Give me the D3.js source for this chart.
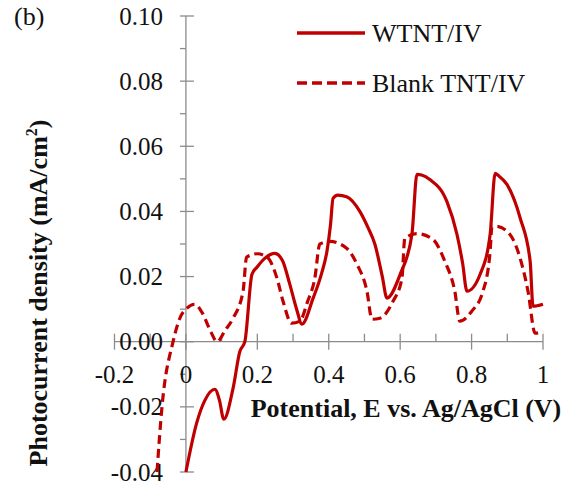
<!DOCTYPE html>
<html><head><meta charset="utf-8">
<script src="https://cdn.jsdelivr.net/npm/d3@7"></script>
<style>
body{margin:0;background:#fff;}
text{font-family:"Liberation Serif","Times New Roman",serif;}
</style></head>
<body><svg id="c" width="575" height="483"></svg>
<script>
const xTicks = [-0.2, 0, 0.2, 0.4, 0.6, 0.8, 1];
const xTickLabels = ["-0.2", "0", "0.2", "0.4", "0.6", "0.8", "1"];
const xMinor = [-0.1, 0.1, 0.3, 0.5, 0.7, 0.9];
const yTicks = [-0.04, -0.02, 0, 0.02, 0.04, 0.06, 0.08, 0.10];
const yTickLabels = ["-0.04", "-0.02", "0.00", "0.02", "0.04", "0.06", "0.08", "0.10"];
const yMinor = [-0.03, -0.01, 0.01, 0.03, 0.05, 0.07, 0.09];

const wtntE = [0, 0.03, 0.053, 0.081, 0.094, 0.106, 0.132, 0.151, 0.165, 0.185, 0.2, 0.22, 0.249, 0.27, 0.29, 0.31, 0.325, 0.356, 0.38, 0.395, 0.405, 0.412, 0.425, 0.45, 0.487, 0.51, 0.529, 0.55, 0.563, 0.6, 0.633, 0.647, 0.66, 0.683, 0.731, 0.759, 0.775, 0.787, 0.824, 0.852, 0.866, 0.875, 0.899, 0.936, 0.964, 0.972, 1.0];
const wtntJ = [-0.040, -0.025, -0.018, -0.0146, -0.018, -0.0238, -0.0143, -0.003, 0.0, 0.0207, 0.023, 0.0255, 0.0271, 0.025, 0.018, 0.010, 0.0054, 0.0133, 0.021, 0.0278, 0.036, 0.044, 0.045, 0.0445, 0.040, 0.035, 0.030, 0.020, 0.0134, 0.0207, 0.033, 0.0514, 0.0512, 0.0498, 0.043, 0.033, 0.024, 0.0155, 0.0207, 0.033, 0.0517, 0.051, 0.0483, 0.038, 0.0247, 0.0109, 0.0115];

const blankE = [-0.081, -0.067, -0.036, -0.017, 0.003, 0.025, 0.045, 0.07, 0.087, 0.11, 0.132, 0.16, 0.17, 0.2, 0.227, 0.255, 0.272, 0.296, 0.319, 0.341, 0.361, 0.375, 0.403, 0.45, 0.479, 0.507, 0.521, 0.543, 0.58, 0.605, 0.613, 0.647, 0.692, 0.725, 0.753, 0.767, 0.8, 0.832, 0.852, 0.857, 0.87, 0.907, 0.936, 0.958, 0.978, 1.0];
const blankJ = [-0.040, -0.020, 0.0, 0.0072, 0.0103, 0.0115, 0.009, 0.003, 0.0, 0.0035, 0.0072, 0.0155, 0.026, 0.027, 0.026, 0.0195, 0.0124, 0.0057, 0.0063, 0.0124, 0.0195, 0.030, 0.0308, 0.0287, 0.0238, 0.0155, 0.0069, 0.0072, 0.0124, 0.0195, 0.0317, 0.0332, 0.0314, 0.0247, 0.0155, 0.0063, 0.0093, 0.0155, 0.0278, 0.0354, 0.0354, 0.033, 0.0256, 0.0155, 0.0026, 0.0032];

const seriesNames = ["WTNT/IV", "Blank TNT/IV"];
const red = "#C00000";
const axisCol = "#8c8c8c";

const svg = d3.select("#c");
const x = d3.scaleLinear().domain([-0.2, 1]).range([114.5, 543]);
const y = d3.scaleLinear().domain([-0.04, 0.10]).range([472, 16]);

// X axis at y=0
const gx = svg.append("g").attr("transform", `translate(0,${y(0)})`);
gx.append("line").attr("x1", x(-0.2)).attr("x2", x(1)).attr("stroke", axisCol).attr("stroke-width", 1.3);
gx.selectAll("line.maj").data(xTicks).join("line").attr("class","maj")
  .attr("x1", d => x(d)).attr("x2", d => x(d)).attr("y1", -8).attr("y2", 8)
  .attr("stroke", axisCol).attr("stroke-width", 1.3);
gx.selectAll("line.min").data(xMinor).join("line").attr("class","min")
  .attr("x1", d => x(d)).attr("x2", d => x(d)).attr("y1", -8).attr("y2", 0)
  .attr("stroke", axisCol).attr("stroke-width", 1.3);

// Y axis at x=0
const gy = svg.append("g").attr("transform", `translate(${x(0)},0)`);
gy.append("line").attr("y1", y(-0.04)).attr("y2", y(0.10)).attr("stroke", axisCol).attr("stroke-width", 1.3);
gy.selectAll("line.maj").data(yTicks).join("line").attr("class","maj")
  .attr("y1", d => y(d)).attr("y2", d => y(d)).attr("x1", -6).attr("x2", 8)
  .attr("stroke", axisCol).attr("stroke-width", 1.3);
gy.selectAll("line.min").data(yMinor).join("line").attr("class","min")
  .attr("y1", d => y(d)).attr("y2", d => y(d)).attr("x1", -6).attr("x2", 0)
  .attr("stroke", axisCol).attr("stroke-width", 1.3);

// Y tick labels
svg.selectAll("text.yl").data(yTicks).join("text").attr("class","yl")
  .attr("x", x(0) - 23).attr("y", d => y(d) + 8.5)
  .attr("text-anchor", "end").attr("font-size", 25).attr("fill", "#111")
  .text((d,i) => yTickLabels[i]);
// X tick labels
svg.selectAll("text.xl").data(xTicks).join("text").attr("class","xl")
  .attr("x", d => x(d)).attr("y", y(0) + 41)
  .attr("text-anchor", "middle").attr("font-size", 25).attr("fill", "#111")
  .text((d,i) => xTickLabels[i]);

// Data lines
const line = d3.line().x(d => x(d[0])).y(d => y(d[1])).curve(d3.curveMonotoneX);
const wtnt = wtntE.map((e,i) => [e, wtntJ[i]]);
const blank = blankE.map((e,i) => [e, blankJ[i]]);
svg.append("path").datum(blank).attr("d", line).attr("fill","none")
  .attr("stroke", red).attr("stroke-width", 3.2).attr("stroke-dasharray","9,5");
svg.append("path").datum(wtnt).attr("d", line).attr("fill","none")
  .attr("stroke", red).attr("stroke-width", 3.2);

// Axis titles
svg.append("text").attr("x", 406).attr("y", 417).attr("text-anchor","middle")
  .attr("font-size", 26).attr("font-weight","bold").attr("fill","#111")
  .text("Potential, E vs. Ag/AgCl (V)");
const yt = svg.append("text").attr("transform","translate(47,293) rotate(-90)")
  .attr("text-anchor","middle").attr("font-size", 26).attr("font-weight","bold").attr("fill","#111");
yt.append("tspan").text("Photocurrent density (mA/cm");
yt.append("tspan").attr("font-size", 16).attr("dy", -10).text("2");
yt.append("tspan").attr("dy", 10).text(")");

// Panel label
svg.append("text").attr("x", 14).attr("y", 25).attr("font-size", 26).attr("fill","#111").text("(b)");

// Legend
const leg = svg.append("g");
const legY = [33, 83];
const legDash = [null, "10,5"];
seriesNames.forEach((n,i) => {
  leg.append("line").attr("x1", 297).attr("x2", 365).attr("y1", legY[i]).attr("y2", legY[i])
    .attr("stroke", red).attr("stroke-width", 3.5).attr("stroke-dasharray", legDash[i]);
  leg.append("text").attr("x", 372).attr("y", legY[i] + 9).attr("font-size", 26).attr("fill","#111").text(n);
});
</script></body></html>
